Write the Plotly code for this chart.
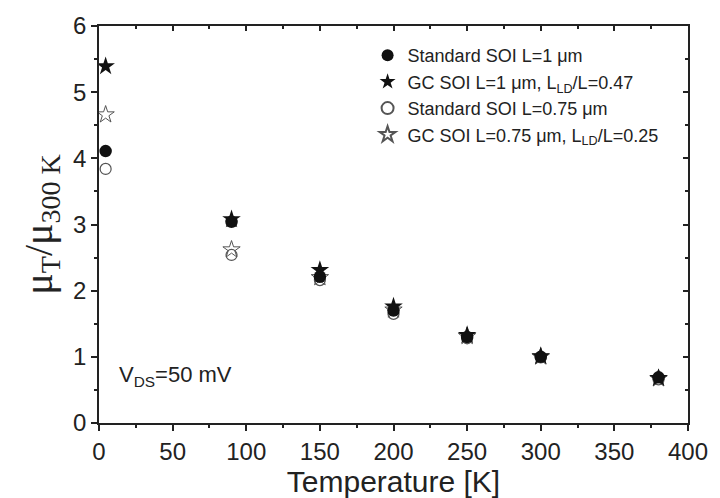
import plotly.graph_objects as go

# Data
temps = [4.5, 90, 150, 200, 250, 300, 380]
std_1um = [4.11, 3.04, 2.21, 1.70, 1.30, 1.00, 0.69]
gc_1um = [5.39, 3.08, 2.31, 1.76, 1.33, 1.01, 0.68]
std_075um = [3.84, 2.54, 2.16, 1.65, 1.28, 0.99, 0.66]
gc_075um = [4.66, 2.62, 2.20, 1.71, 1.31, 1.00, 0.67]

names = [
    "Standard SOI L=1 μm",
    "GC SOI L=1 μm, L<sub>LD</sub>/L=0.47",
    "Standard SOI L=0.75 μm",
    "GC SOI L=0.75 μm, L<sub>LD</sub>/L=0.25",
]

FONT = "Liberation Sans, Arial, sans-serif"
INK = "#222222"

fig = go.Figure()
# open markers first, filled on top
fig.add_trace(go.Scatter(x=temps, y=std_075um, mode="markers", name=names[2],
                         marker=dict(symbol="circle-open", size=11, color="#555555", line=dict(width=1.2)),
                         legendrank=3))
fig.add_trace(go.Scatter(x=temps, y=gc_075um, mode="markers", name=names[3],
                         marker=dict(symbol="star-open", size=13, color="#555555", line=dict(width=1.0)),
                         legendrank=4))
fig.add_trace(go.Scatter(x=temps, y=std_1um, mode="markers", name=names[0],
                         marker=dict(symbol="circle", size=12.5, color="#111111"),
                         legendrank=1))
fig.add_trace(go.Scatter(x=temps, y=gc_1um, mode="markers", name=names[1],
                         marker=dict(symbol="star", size=14, color="#111111"),
                         legendrank=2))
# empty trace to create top/right mirror axes with inward ticks
fig.add_trace(go.Scatter(x=[], y=[], xaxis="x2", yaxis="y2", showlegend=False, hoverinfo="skip"))

fig.update_layout(
    width=720, height=498,
    margin=dict(l=99, r=27, t=23, b=75),
    paper_bgcolor="white", plot_bgcolor="white",
    font=dict(family=FONT, color=INK),
    showlegend=True,
    legend=dict(x=0.456, y=0.972, xanchor="left", yanchor="top",
                font=dict(family=FONT, size=18, color=INK),
                itemsizing="constant", tracegroupgap=0, bgcolor="rgba(0,0,0,0)",
                itemwidth=30),
    xaxis=dict(range=[0, 400], tickvals=[0, 50, 100, 150, 200, 250, 300, 350, 400],
               ticks="outside", ticklen=6, tickwidth=1.5, tickcolor=INK,
               minor=dict(dtick=25, tick0=0, ticks="outside", ticklen=3, tickwidth=1.5, tickcolor=INK),
               showline=True, linecolor=INK, linewidth=1.5, mirror=True,
               showgrid=False, zeroline=False,
               tickfont=dict(size=24, family=FONT),
               title=dict(text="Temperature [K]", font=dict(size=30, family=FONT), standoff=0)),
    yaxis=dict(range=[0, 6], tickvals=[0, 1, 2, 3, 4, 5, 6],
               ticks="outside", ticklen=6, tickwidth=1.5, tickcolor=INK,
               minor=dict(dtick=0.5, tick0=0, ticks="outside", ticklen=3, tickwidth=1.5, tickcolor=INK),
               showline=True, linecolor=INK, linewidth=1.5, mirror=True,
               showgrid=False, zeroline=False,
               tickfont=dict(size=24, family=FONT),
               title=dict(text="μ<sub>T</sub>/μ<sub>300 K</sub>",
                          font=dict(size=40, family="Liberation Serif, Times New Roman, serif"), standoff=8)),
    xaxis2=dict(range=[0, 400], overlaying="x", side="top", anchor="y2",
                tickvals=[0, 50, 100, 150, 200, 250, 300, 350, 400], showticklabels=False,
                ticks="inside", ticklen=5, tickwidth=1.5, tickcolor=INK,
                minor=dict(dtick=25, tick0=0, ticks="inside", ticklen=3, tickwidth=1.5, tickcolor=INK),
                showgrid=False, zeroline=False, showline=False),
    yaxis2=dict(range=[0, 6], overlaying="y", side="right", anchor="x2",
                tickvals=[0, 1, 2, 3, 4, 5, 6], showticklabels=False,
                ticks="inside", ticklen=5, tickwidth=1.5, tickcolor=INK,
                minor=dict(dtick=0.5, tick0=0, ticks="inside", ticklen=3, tickwidth=1.5, tickcolor=INK),
                showgrid=False, zeroline=False, showline=False),
    annotations=[dict(x=0.03, y=0.118, xref="paper", yref="paper", xanchor="left", yanchor="middle",
                      text="V<sub>DS</sub>=50 mV", showarrow=False,
                      font=dict(size=22, family=FONT, color=INK))],
)

fig.write_html("out.html")
